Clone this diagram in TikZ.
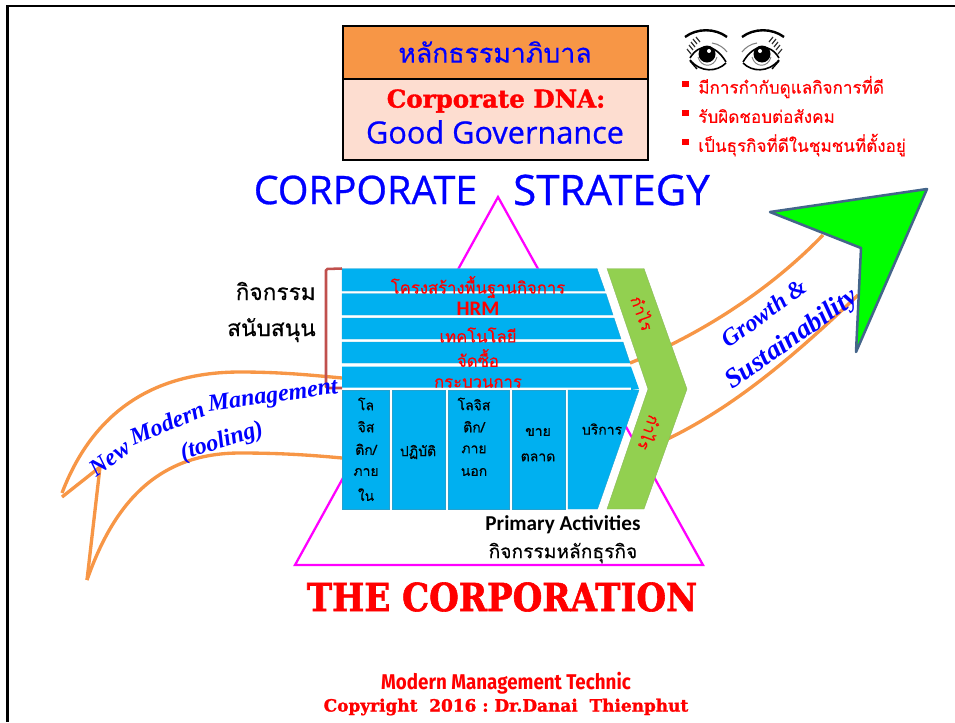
\documentclass[tikz,border=0pt]{standalone}
\usepackage{fontspec}
\usepackage{tikz}
\usetikzlibrary{shapes.geometric, arrows}
\setmainfont{Carlito}
\newfontfamily\thaifont[Script=Thai, FakeBold=0.3]{Loma}
\newfontfamily\comicfont[FakeBold=0.7]{Open Sans}
\newfontfamily\cooperfont[FakeBold=1.5]{DejaVu Serif Bold}
\newfontfamily\corpfont[FakeBold=1.5, FakeStretch=0.88]{DejaVu Serif Bold}
\newfontfamily\handfont{Liberation Serif}
\newfontfamily\markerfont[FakeStretch=0.88]{Fira Sans}
\newcommand{\fs}[1]{\fontsize{#1}{#1}\selectfont}
\definecolor{cyanband}{HTML}{00B0F0}
\definecolor{leafgreen}{HTML}{92D050}
\definecolor{bandorange}{HTML}{F79646}
\definecolor{peach}{HTML}{FDDDD0}
\definecolor{brick}{HTML}{C0504D}
\definecolor{arrowedge}{HTML}{44658A}
\definecolor{pinkline}{HTML}{FF00FF}
\tikzstyle{band} = [fill=cyanband, draw=cyanband!70!gray, line width=0.3pt]
\tikzstyle{chevron} = [fill=leafgreen, draw=leafgreen!70!gray, line width=0.3pt]
\tikzstyle{swoosh} = [draw=bandorange, line width=2.5pt]
\tikzstyle{titlebox} = [draw=black, line width=1.9pt]
\tikzstyle{bandlabel} = [font=\thaifont\fs{12.5}, text=red, inner sep=0pt]
\tikzstyle{columnlabel} = [font=\thaifont\fs{10.5}, text=black, inner sep=0pt]
\tikzstyle{sidelabel} = [font=\thaifont\fs{17}, text=black, inner sep=0pt]
\tikzstyle{bulletlabel} = [font=\thaifont\fs{12.8}, text=red, inner sep=0pt, anchor=west]
\tikzstyle{bulletmark} = [rectangle, fill=red, minimum size=5pt, inner sep=0pt]
\tikzstyle{profit} = [font=\thaifont\fs{12}, text=red, inner sep=0pt]
\tikzstyle{strategy} = [font=\comicfont\fs{29.5}, text=blue, inner sep=0pt]
\tikzstyle{handword} = [font=\handfont\bfseries\itshape\fs{18}, text=blue, inner sep=0pt]
\begin{document}
\begin{tikzpicture}[x=0.75pt, y=-0.75pt, node distance=17pt]
\useasboundingbox (0,0) rectangle (955,722);

\draw [black, line width=2.2pt] (955,6) -- (7.5,6) -- (7.5,722);

\fill [bandorange] (343,26) rectangle (648,79);
\fill [peach] (343,79) rectangle (648,160);
\draw [titlebox] (343,26) rectangle (648,160);
\draw [titlebox] (343,79) -- (648,79);
\node (govthai) [font=\thaifont\fs{20}, text=blue, inner sep=0pt] at (495,52) {หลักธรรมาภิบาล};
\node (dna) [font=\cooperfont\fs{18.4}, text=red, inner sep=0pt] at (496,101) {Corporate DNA:};
\node (good) [font=\comicfont\fs{23}, text=blue, inner sep=0pt] at (495,132) {Good Governance};

\foreach \ex/\flip in {707/1, 762/-1} {
  \begin{scope}[shift={(\ex,55)}, xscale=\flip]
    \draw [black, line width=1.8pt] (-22,-18) .. controls (-10,-27) and (8,-27) .. (20,-18);
    \draw [black, line width=1.2pt] (-17,3) .. controls (-8,-12) and (8,-12) .. (19,7);
    \draw [black, line width=1.2pt] (-17,5) .. controls (-6,18) and (10,17) .. (19,8);
    \fill [black] (0,-1) circle (8.5);
    \fill [white] (2,-4) circle (2);
    \draw [gray, line width=0.7pt] (-9,2) .. controls (-6,13) and (7,13) .. (10,2);
    \draw [gray, line width=0.8pt] (5,-12) .. controls (12,-11) and (17,-7) .. (20,-3);
    \foreach \lx/\ly in {-16/-1, -14/-5, -12/-8, -10/-11, -7/-13} {
      \draw [black!80, line width=0.9pt] (\lx,\ly) -- (\lx-4,\ly-5);
    }
    \draw [black, line width=1pt] (-17,6) -- (-10,14);
  \end{scope}
}

\node (markone) [bulletmark] at (685.5,84) {};
\node (bulletone) [bulletlabel] at (698,87) {มีการกำกับดูแลกิจการที่ดี};
\node (marktwo) [bulletmark] at (685.5,113) {};
\node (bullettwo) [bulletlabel] at (698,116) {รับผิดชอบต่อสังคม};
\node (markthree) [bulletmark] at (685.5,142) {};
\node (bulletthree) [bulletlabel] at (698,145) {เป็นธุรกิจที่ดีในชุมชนที่ตั้งอยู่};

\node (corp) [strategy] at (365.5,190) {CORPORATE};
\node (strat) [strategy, font=\comicfont\fs{31.5}] at (611.5,190) {STRATEGY};

\draw [pinkline, line width=1.7pt, line join=miter] (498,197) -- (703,565) -- (295,565) -- cycle;
\fill [white] (342,268.5) -- (597,268.5) -- (639,389) -- (597.5,509) -- (342,509) -- cycle;

% the swooshes go under the value chain
\draw [swoosh] (62,493) .. controls (88,425) and (140,372) .. (240,372) .. controls (280,372) and (310,375) .. (342,378);
\draw [swoosh] (87,580) .. controls (115,500) and (160,453) .. (240,453) .. controls (280,453) and (310,455) .. (342,458);
\draw [swoosh] (62,497) -- (100,467) -- (87,580);
\draw [swoosh] (630,363) .. controls (700,335) and (770,290) .. (823,235);
\draw [swoosh] (650,447) .. controls (725,415) and (790,360) .. (858,295);

\draw [fill=green, draw=arrowedge, line width=1.9pt, line join=round] (770,212) -- (927,189) -- (856,352) -- (861,248) -- cycle;

\foreach \ytop/\ybot/\xtop/\xbot in {268.5/291/597/605, 293.7/315/606/613, 318/339/614/621, 342/363/623/630} {
  \filldraw [band] (342,\ytop) -- (\xtop,\ytop) -- (\xbot,\ybot) -- (342,\ybot) -- cycle;
}
\fill [cyanband] (342,366.7) -- (631,366.7) -- (639,389) -- (631,390) -- (631,387.5) -- (342,387.5) -- cycle;
\foreach \xl/\xr in {342/389, 392/445, 448/509, 512/565} {
  \filldraw [band] (\xl,390) rectangle (\xr,509);
}
\filldraw [band] (568,390) -- (639,390) -- (597.5,509) -- (568,509) -- cycle;
\filldraw [chevron] (607,268.5) -- (644,268.5) -- (687,389) -- (644,509) -- (607,509) -- (648,389) -- cycle;

\draw [brick, line width=1.9pt, rounded corners=1pt] (342,268.5) -- (326,269) -- (326,388) -- (342,388);

\node (infra) [bandlabel] at (478,287) {โครงสร้างพื้นฐานกิจการ};
\node (hrm) [font=\bfseries\fs{15.5}, text=red, inner sep=0pt] at (478,309) {HRM};
\node (tech) [bandlabel] at (478,335) {เทคโนโลยี};
\node (buy) [bandlabel] at (478,358) {จัดซื้อ};
\node (process) [bandlabel] at (478,383) {กระบวนการ};

\node (lin1) [columnlabel] at (366,404) {โล};
\node (lin2) [columnlabel, below of=lin1] {จิส};
\node (lin3) [columnlabel, below of=lin2] {ติก/};
\node (lin4) [columnlabel, below of=lin3] {ภาย};
\node (lin5) [columnlabel, below of=lin4] {ใน};
\node (ops) [columnlabel] at (418,452) {ปฏิบัติ};
\node (lout1) [columnlabel] at (474,404) {โลจิส};
\node (lout2) [columnlabel, below of=lout1] {ติก/};
\node (lout3) [columnlabel, below of=lout2] {ภาย};
\node (lout4) [columnlabel, below of=lout3] {นอก};
\node (sale1) [columnlabel] at (538,432) {ขาย};
\node (sale2) [columnlabel, below of=sale1, yshift=-2pt] {ตลาด};
\node (service) [columnlabel] at (602,429) {บริการ};

\node (profita) [profit, rotate=-70] at (643,313) {กำไร};
\node (profitb) [profit, rotate=-110] at (650,433) {กำไร};

\node (support1) [sidelabel, anchor=east] at (316,291) {กิจกรรม};
\node (support2) [sidelabel, anchor=east] at (316,330) {สนับสนุน};

\node (primary) [font=\bfseries\fs{15.9}, text=black, inner sep=0pt] at (563,525) {Primary Activities};
\node (primarythai) [font=\thaifont\fs{14.4}, text=black, inner sep=0pt] at (563,553) {กิจกรรมหลักธุรกิจ};

\node (thecorp) [font=\corpfont\fs{29}, text=red, inner sep=0pt] at (502,597) {THE CORPORATION};
\node (mmt) [font=\markerfont\bfseries\fs{16}, text=red, inner sep=0pt] at (506,683) {Modern Management Technic};
\node (copy) [font=\cooperfont\fs{12.7}, text=red, inner sep=0pt] at (506,707) {Copyright~~2016~:~Dr.Danai~~Thienphut};

\node (newword) [handword, rotate=36] at (110,458) {New};
\node (modern) [handword, rotate=22] at (167,423) {Modern};
\node (manage) [handword, rotate=8] at (273,397) {Management};
\node (tooling) [handword, rotate=17] at (222,442) {(tooling)};
\node (growth) [handword, rotate=36] at (764,313) {Growth \&};
\node (sustain) [handword, font=\handfont\bfseries\itshape\fs{20.5}, rotate=35] at (792,340) {Sustainability};
\end{tikzpicture}
\end{document}
